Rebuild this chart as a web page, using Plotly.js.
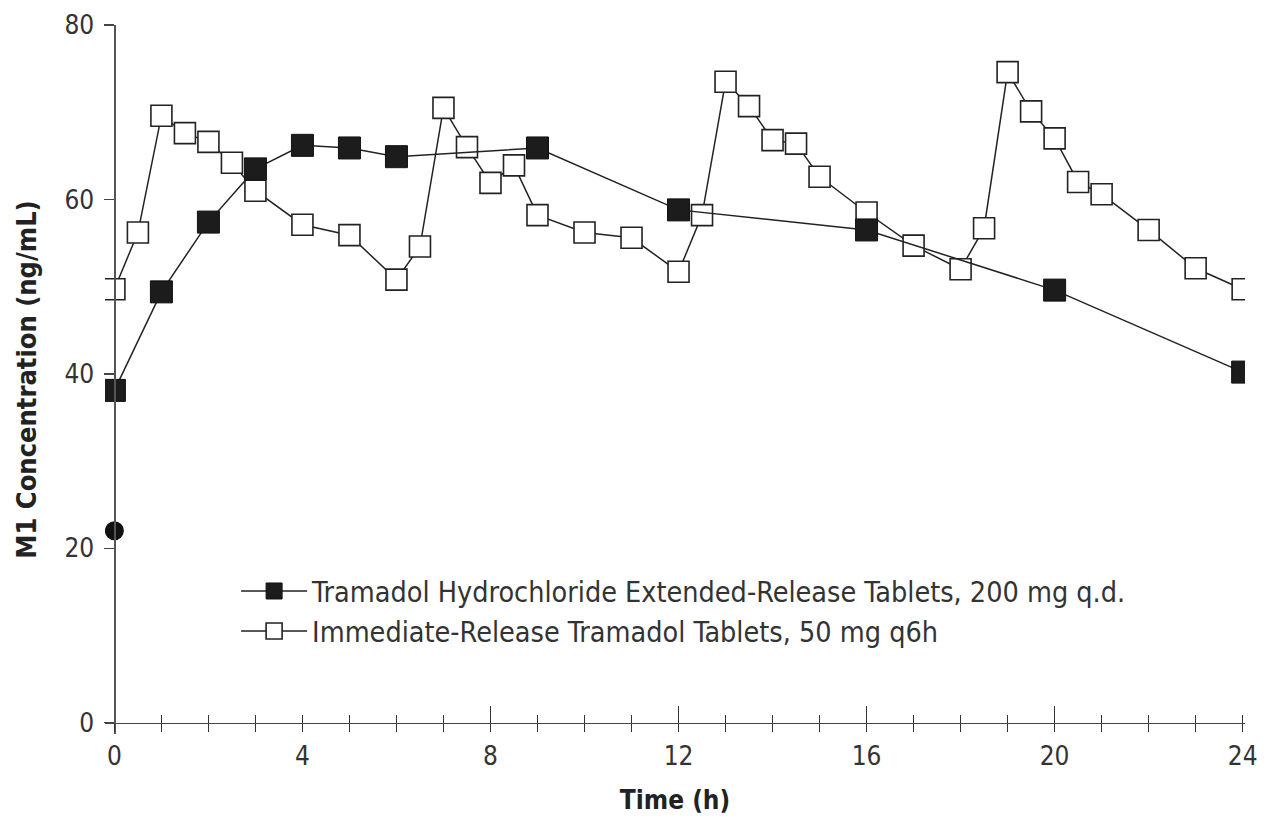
<!DOCTYPE html>
<html>
<head>
<meta charset="utf-8">
<script src="https://cdn.plot.ly/plotly-3.0.1.min.js"></script>
<style>html,body{margin:0;padding:0;background:#fff;}#chart{width:1266px;height:824px;}</style>
</head>
<body>
<div id="chart"></div>
<script>
// Extended-release (filled squares)
const erTime = [0, 1, 2, 3, 4, 5, 6, 9, 12, 16, 20, 24];
const erConc = [38.1, 49.4, 57.4, 63.5, 66.2, 65.9, 64.9, 65.9, 58.8, 56.5, 49.6, 40.2];
// Immediate-release (open squares)
const irTime = [0, 0.5, 1, 1.5, 2, 2.5, 3, 4, 5, 6, 6.5, 7, 7.5, 8, 8.5, 9, 10, 11, 12, 12.5, 13, 13.5, 14, 14.5, 15, 16, 17, 18, 18.5, 19, 19.5, 20, 20.5, 21, 22, 23, 24];
const irConc = [49.7, 56.2, 69.6, 67.6, 66.6, 64.2, 61.0, 57.1, 55.9, 50.8, 54.6, 70.5, 66.0, 61.9, 63.9, 58.2, 56.2, 55.6, 51.7, 58.2, 73.5, 70.7, 66.8, 66.4, 62.6, 58.5, 54.7, 52.0, 56.7, 74.6, 70.1, 67.0, 62.0, 60.6, 56.5, 52.1, 49.7];
// Single filled circle at time 0
const dotTime = [0];
const dotConc = [22];

const erName = "Tramadol Hydrochloride Extended-Release Tablets, 200 mg q.d.";
const irName = "Immediate-Release Tramadol Tablets, 50 mg q6h";
const xTickVals = [0,1,2,3,4,5,6,7,8,9,10,11,12,13,14,15,16,17,18,19,20,21,22,23,24];
const xTickText = ["0","","","","4","","","","8","","","","12","","","","16","","","","20","","","","24"];
const xMinorVals = [1,2,3,4,5,6,7,9,10,11,13,14,15,17,18,19,21,22,23,24];
const xMajorVals = [8,12,16,20];
const yTickVals = [0,20,40,60,80];

const FONT = '"DejaVu Sans Condensed", "Liberation Sans Narrow", Arial, sans-serif';
const lineCol = '#222';
const xr = [-0.2, 24.05];
const yr = [-1.3, 80];
const xPos = (0 - xr[0]) / (xr[1] - xr[0]);
const yPos = (0 - yr[0]) / (yr[1] - yr[0]);

const traces = [
  {x: irTime, y: irConc, name: irName, type: 'scatter', mode: 'lines+markers',
   line: {color: lineCol, width: 1.5},
   marker: {symbol: 'square', size: 21, color: '#fff', line: {color: lineCol, width: 1.6}},
   legendrank: 2, legendgroup: 'b'},
  {x: erTime, y: erConc, name: erName, type: 'scatter', mode: 'lines+markers',
   line: {color: lineCol, width: 1.5},
   marker: {symbol: 'square', size: 22, color: '#1c1c1c', line: {color: '#111', width: 1}},
   legendrank: 1, legendgroup: 'a'},
  {x: dotTime, y: dotConc, type: 'scatter', mode: 'markers', showlegend: false,
   marker: {symbol: 'circle', size: 19, color: '#111'}},
  {x: [], y: [], xaxis: 'x2', yaxis: 'y', showlegend: false, hoverinfo: 'skip', type: 'scatter'},
  {x: [], y: [], xaxis: 'x3', yaxis: 'y', showlegend: false, hoverinfo: 'skip', type: 'scatter'}
];

const layout = {
  width: 1266, height: 824,
  margin: {l: 105, r: 21, t: 25, b: 90},
  paper_bgcolor: '#fff', plot_bgcolor: '#fff',
  font: {family: FONT, color: '#333', size: 26},
  showlegend: true,
  legend: {x: 0.115, y: 0.237, xanchor: 'left', yanchor: 'top', bgcolor: 'rgba(0,0,0,0)',
           font: {family: FONT, size: 28.5, color: '#333'}, itemwidth: 66, tracegroupgap: 3,
           traceorder: 'normal'},
  xaxis: {range: xr, anchor: 'free', position: yPos, showgrid: false, zeroline: false,
          showline: true, linecolor: '#444', linewidth: 1.6,
          tickmode: 'array', tickvals: xTickVals, ticktext: xTickText,
          ticks: 'outside', ticklen: 8, tickwidth: 1.5, tickcolor: '#333', ticklabelstandoff: 2,
          tickfont: {family: FONT, size: 26, color: '#333'},
          title: {text: '<b>Time (h)</b>', font: {family: FONT, size: 26, color: '#222'}, standoff: 20}},
  xaxis2: {range: xr, overlaying: 'x', anchor: 'free', position: yPos, showgrid: false, zeroline: false,
           showline: false, tickmode: 'array', tickvals: xMinorVals, showticklabels: false,
           ticks: 'inside', ticklen: 8, tickwidth: 1.5, tickcolor: '#333'},
  xaxis3: {range: xr, overlaying: 'x', anchor: 'free', position: yPos, showgrid: false, zeroline: false,
           showline: false, tickmode: 'array', tickvals: xMajorVals, showticklabels: false,
           ticks: 'inside', ticklen: 17, tickwidth: 1.5, tickcolor: '#333'},
  yaxis: {range: yr, anchor: 'free', position: xPos, showgrid: false, zeroline: false,
          showline: true, linecolor: '#555', linewidth: 1.8,
          tickmode: 'array', tickvals: yTickVals,
          ticks: 'outside', ticklen: 10, tickwidth: 1.5, tickcolor: '#444', ticklabelstandoff: 5,
          tickfont: {family: FONT, size: 26, color: '#333'},
          title: {text: '<b>M1 Concentration (ng/mL)</b>', font: {family: FONT, size: 27, color: '#222'}, standoff: 18}}
};

Plotly.newPlot('chart', traces, layout, {displayModeBar: false, staticPlot: true});
</script>
</body>
</html>
